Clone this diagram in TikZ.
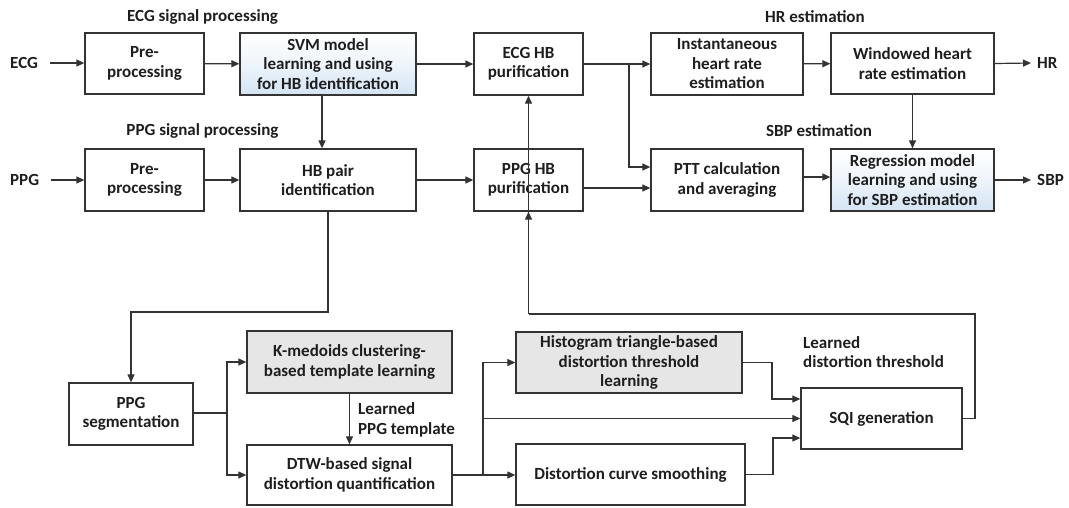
\documentclass[tikz,border=0pt]{standalone}
\usepackage{fontspec}
\setmainfont{Carlito}
\usetikzlibrary{arrows.meta}
\definecolor{linec}{HTML}{333333}
\definecolor{textc}{HTML}{1E1E1E}
\definecolor{greyfill}{HTML}{E6E6E6}
\definecolor{bluefill}{HTML}{D4E4F4}
\begin{document}
\begin{tikzpicture}[x=1pt,y=-1pt,
  font=\bfseries\fontsize{17}{19.5}\selectfont, text=textc,
  box/.style n args={2}{draw=linec, line width=1.3pt, fill=white,
    minimum width=#1, minimum height=#2, align=center, inner sep=0pt},
  greybox/.style={fill=greyfill},
  bluebox/.style={top color=white, bottom color=bluefill, middle color=white!60!bluefill},
  lbl/.style={inner sep=0pt, align=left},
  conn/.style={draw=linec, line width=1.2pt},
  arr/.style={conn, -{Triangle[length=8pt,width=7pt]}}]
\useasboundingbox (0,0) rectangle (1069,507);

% ---- section titles ----
\node[lbl] (tecg) at (202.5,17) {ECG signal processing};
\node[lbl] (tppg) at (202.5,131) {PPG signal processing};
\node[lbl] (thr) at (815,17) {HR estimation};
\node[lbl] (tsbp) at (819,131) {SBP estimation};

% ---- inputs and outputs ----
\node[lbl, anchor=west] (ecg) at (10,63) {ECG};
\node[lbl, anchor=west] (ppg) at (10,180) {PPG};
\node[lbl, anchor=west] (hr) at (1037,63) {HR};
\node[lbl, anchor=west] (sbp) at (1037,180) {SBP};

% ---- top row ----
\node[box={119}{61}] (preE) at (144.5,63.5) {Pre-\\processing};
\node[box={176}{62}, bluebox] (svm) at (328,64) {SVM model\\learning and using\\for HB identification};
\node[box={109}{62}] (ecghb) at (528.5,64) {ECG HB\\purification};
\node[box={152}{62}] (inst) at (727,64) {Instantaneous\\heart rate\\estimation};
\node[box={163}{61}] (wind) at (912.5,63.5) {Windowed heart\\rate estimation};

% ---- second row ----
\node[box={119}{62}] (preP) at (144.5,180) {Pre-\\processing};
\node[box={176}{62}] (hbpair) at (328,180) {HB pair\\identification};
\node[box={109}{62}] (ppghb) at (528.5,180) {PPG HB\\purification};
\node[box={152}{62}] (ptt) at (727,180) {PTT calculation\\and averaging};
\node[box={163}{62}, bluebox] (reg) at (912.5,180) {Regression model\\learning and using\\for SBP estimation};

% ---- signal quality branch ----
\node[box={124}{62}] (seg) at (131,414) {PPG\\segmentation};
\node[box={205}{62}, greybox] (kmed) at (349.5,362) {K-medoids clustering-\\based template learning};
\node[box={205}{60}] (dtw) at (349.5,475) {DTW-based signal\\distortion quantification};
\node[box={226}{61}, greybox] (hist) at (629,362.5) {Histogram triangle-based\\distortion threshold\\learning};
\node[box={229}{61}] (curve) at (630.5,474.5) {Distortion curve smoothing};
\node[box={161}{61}] (sqi) at (881.5,418.5) {SQI generation};

\node[lbl, anchor=west] (ltpl) at (358,420) {Learned\\PPG template};
\node[lbl, anchor=west] (lthr) at (803,352) {Learned\\distortion threshold};

% ---- connectors: ECG / PPG chains ----
\draw[arr] ([xshift=12pt]ecg.east) -- (preE.west |- ecg.east);
\draw[arr] ([xshift=12pt]ppg.east) -- (preP.west |- ppg.east);
\draw[arr] (preE) -- (svm);
\draw[arr] (svm) -- (ecghb);
\draw[arr] (preP) -- (hbpair);
\draw[arr] (hbpair) -- (ppghb);
\draw[arr] (svm.south -| 322,0) -- (hbpair.north -| 322,0);

% ---- HR and SBP estimation ----
\coordinate (j3) at (629,64);
\coordinate (p1) at (629,167);
\draw[arr] (ecghb) -- (inst);
\draw[arr] (j3) -- (p1) -- (p1 -| ptt.west);
\draw[arr] (ppghb.east |- 0,188) -- (ptt.west |- 0,188);
\draw[arr] (inst) -- (wind);
\draw[arr] (wind.east) -- ([xshift=-6pt]hr.west);
\draw[arr] (wind.south) -- (reg.north);
\draw[arr] (ptt.east |- 0,177) -- (reg.west |- 0,177);
\draw[arr] (reg.east) -- ([xshift=-6pt]sbp.west);

% ---- PPG segmentation and template learning ----
\coordinate (s1) at (328,312);
\draw[arr] (hbpair.south) -- (s1) -| (seg.north);
\coordinate (j1) at (227,413);
\draw[conn] (seg.east |- j1) -- (j1);
\draw[arr] (j1) |- (kmed.west);
\draw[arr] (j1) |- (dtw.west);
\draw[arr] (kmed.south) -- (dtw.north);

% ---- distortion threshold and SQI ----
\coordinate (j2) at (483,475);
\draw[arr] (dtw.east) -- (curve.west |- dtw.east);
\draw[arr] (j2) |- (hist.west);
\draw[arr] (j2) |- (sqi.west);
\coordinate (h1) at (772,399);
\draw[arr] (hist.east) -| (h1) -- (h1 -| sqi.west);
\coordinate (c1) at (773,438);
\draw[arr] (curve.east) -| (c1) -- (c1 -| sqi.west);

% ---- SQI feedback to HB purification ----
\coordinate (fbR) at (975,314);
\coordinate (fbL) at (528.5,314);
\draw[conn] (sqi.east) -| (fbR) -- (fbL);
\draw[arr] (fbL) -- (ecghb.south);
\draw[arr] (fbL) -- (ppghb.south);
\end{tikzpicture}
\end{document}
